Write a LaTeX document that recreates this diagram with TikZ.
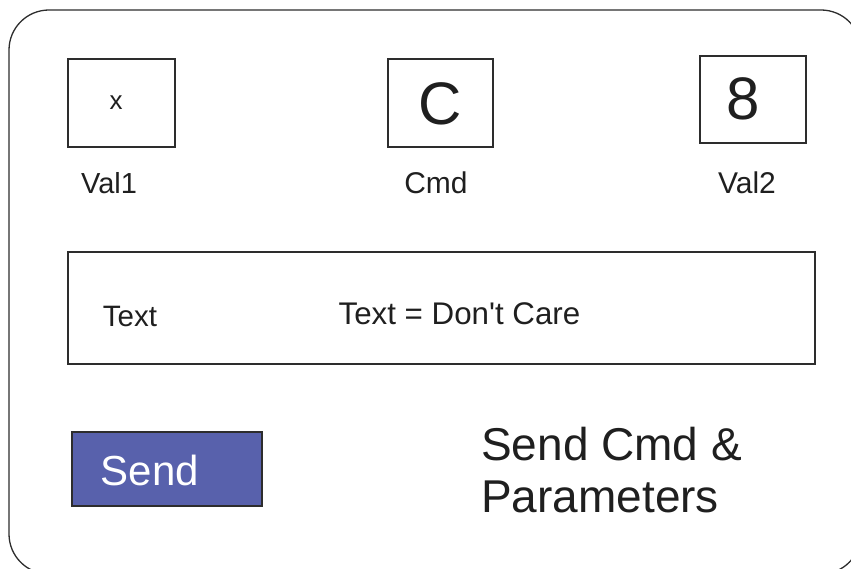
\documentclass[tikz,border=0pt]{standalone}
\usepackage{fontspec}
\setmainfont{Liberation Sans}
\newfontfamily\plainarial{Liberation Sans}
\definecolor{btnblue}{RGB}{88,97,172}
\definecolor{edge}{RGB}{45,45,45}
\begin{document}
\begin{tikzpicture}[x=1pt,y=-1pt,
  box/.style={draw=edge,line width=1.3pt,inner sep=0pt},
  lbl/.style={inner sep=0pt,text=black!88}]
\useasboundingbox (0,0) rectangle (851,569);
\clip (0,0) rectangle (851,569);
\draw[edge,line width=1.3pt,rounded corners=40pt] (9,10) rectangle (861,574);
% value boxes
\node[box,minimum width=107pt,minimum height=88pt] (v1) at (121.5,103) {};
\node[box,minimum width=105pt,minimum height=88pt] (cmd) at (440.5,103) {};
\node[box,minimum width=106pt,minimum height=87pt] (v2) at (753,99.5) {};
\node[lbl,font=\fontsize{26}{28}\selectfont] (vx) at (116,103) {x};
\node[lbl,font=\fontsize{60}{64}\selectfont] (vc) at (440,103.5) {C};
\node[lbl,font=\fontsize{60}{64}\selectfont] (v8) at (743,99) {8};
\node[lbl,font=\fontsize{29}{32}\selectfont] (l1) at (109,183) {Val1};
\node[lbl,font=\fontsize{30}{32}\selectfont] (l2) at (436,183) {Cmd};
\node[lbl,font=\fontsize{30}{32}\selectfont] (l3) at (747,183) {Val2};
% text box
\node[box,minimum width=747pt,minimum height=112pt] (tb) at (441.5,308) {};
\node[lbl,font=\fontsize{29.5}{32}\selectfont] (tl) at (130,316) {Text};
\node[lbl,font=\plainarial\fontsize{31.3}{33}\selectfont] (tv) at (459.5,314) {Text = Don't Care};
% send button
\node[box,fill=btnblue,minimum width=190pt,minimum height=74pt] (send) at (167,469) {};
\node[lbl,text=white,font=\fontsize{42}{44}\selectfont] (st) at (150,470) {Send};
\node[lbl,anchor=north west,align=left,font=\fontsize{46}{52}\selectfont] (desc) at (481,427) {Send Cmd \&\\Parameters};
\end{tikzpicture}
\end{document}
